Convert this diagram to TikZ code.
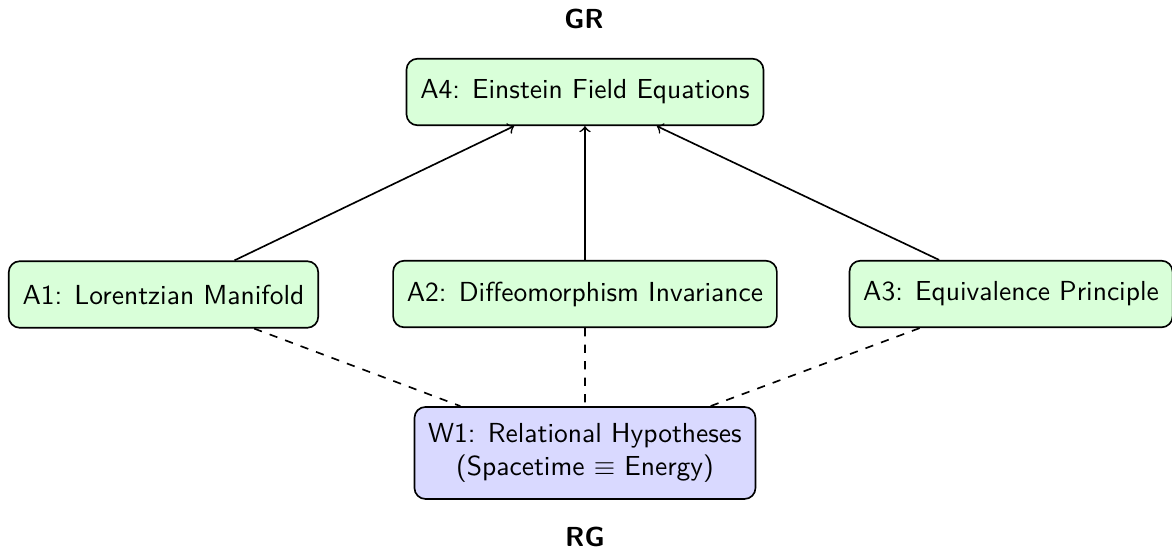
\documentclass[tikz,border=0pt]{standalone}
\usepackage{amssymb}
\usepackage{amsmath}
\usepackage{tikz}
\usetikzlibrary{calc}
\renewcommand{\familydefault}{\sfdefault}

\begin{document}
\begin{tikzpicture}[
        axiom/.style={draw, rounded corners, fill=green!15, minimum height=0.85cm, inner xsep=5pt, semithick},
        world/.style={draw, rounded corners, fill=blue!15, align=center, inner xsep=5pt, inner ysep=6pt, semithick},
        derives/.style={->, semithick},
        relates/.style={dashed, semithick}
    ]
            \useasboundingbox (0,0) rectangle (14.968,-7.063);
            \node[font=\bfseries] (GR) at (7.459,-0.236) {GR};
            \node[axiom] (A4) at (7.471,-1.175) {A4: Einstein Field Equations};
            \node[axiom] (A1) at (2.088,-3.761) {A1: Lorentzian Manifold};
            \node[axiom] (A2) at (7.471,-3.755) {A2: Diffeomorphism Invariance};
            \node[axiom] (A3) at (12.912,-3.755) {A3: Equivalence Principle};
            \node[world] (W1) at (7.471,-5.785) {W1: Relational Hypotheses\\(Spacetime $\equiv$ Energy)};
            \node[font=\bfseries] (RG) at (7.471,-6.858) {RG};
            \draw[derives] (A1) -- (A4);
            \draw[derives] (A2) -- (A4);
            \draw[derives] (A3) -- (A4);
            \draw[relates] (A1) -- (W1)
                (A2) -- (W1)
                (A3) -- (W1);
        \end{tikzpicture}
\end{document}
